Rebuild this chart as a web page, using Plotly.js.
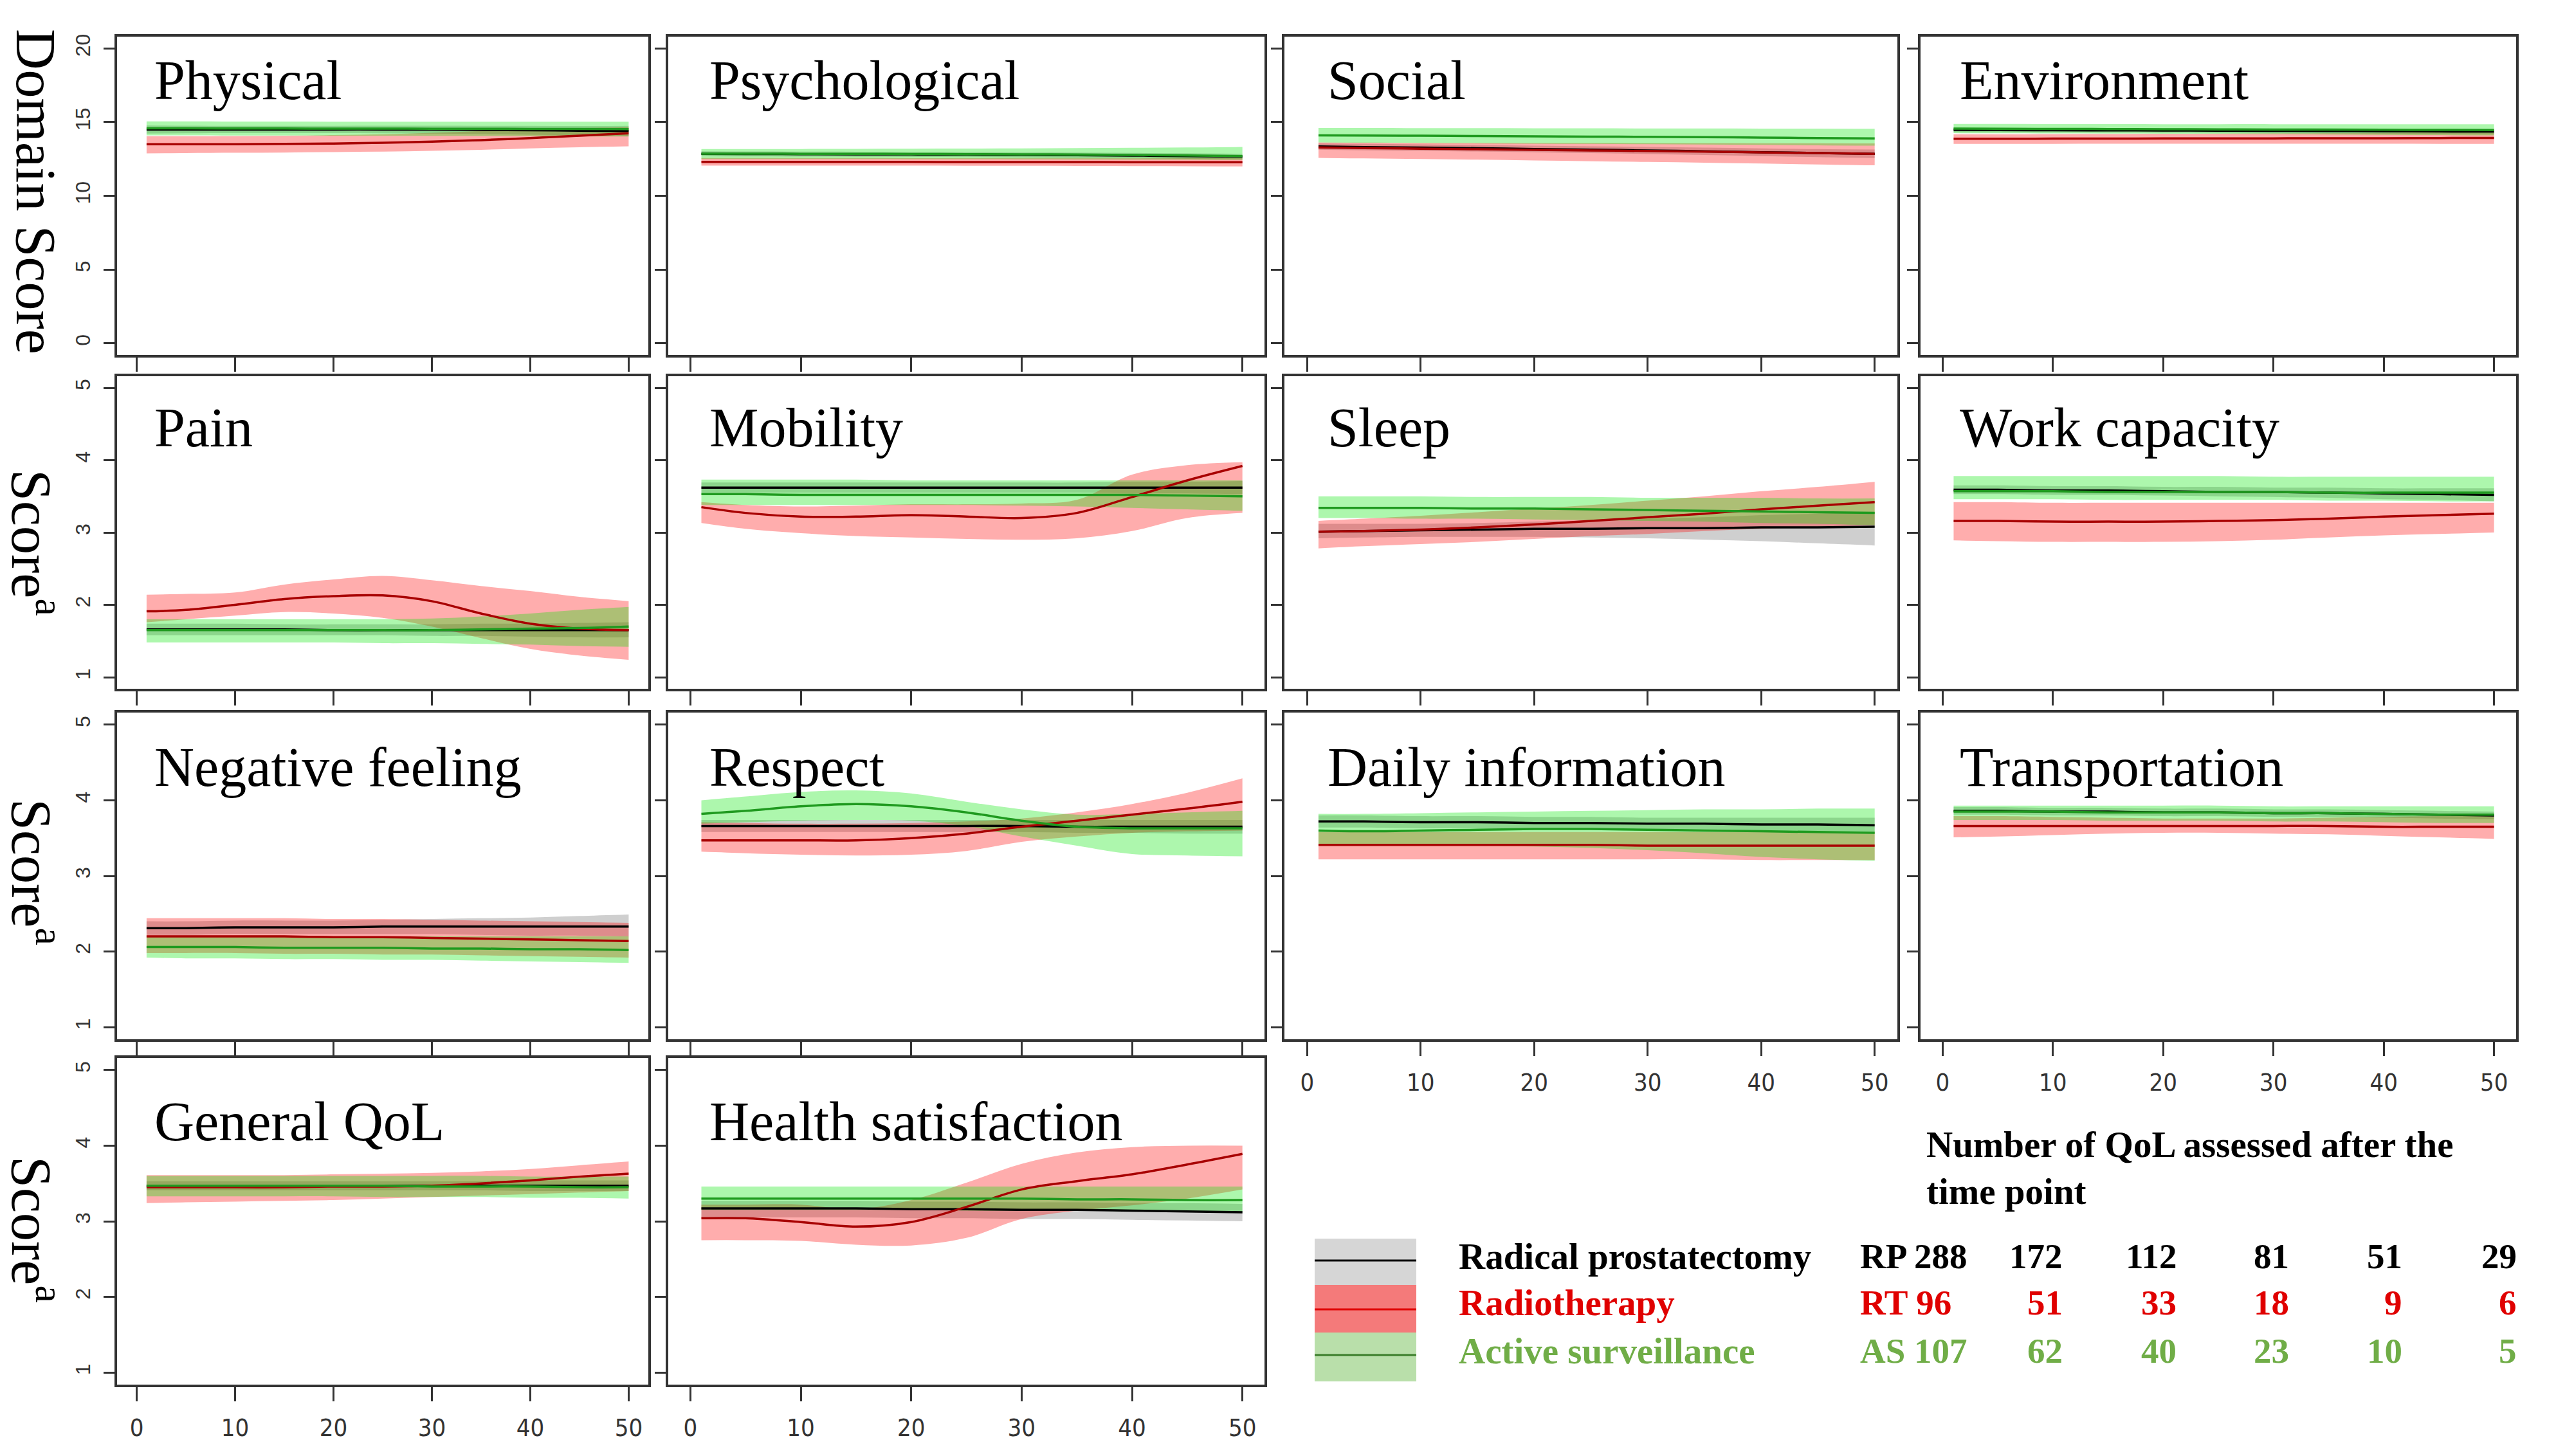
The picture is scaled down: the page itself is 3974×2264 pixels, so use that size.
<!DOCTYPE html>
<html><head><meta charset="utf-8">
<script src="https://cdn.plot.ly/plotly-3.0.1.min.js"></script>
<style>html,body{margin:0;padding:0;background:#fff}#chart{width:3974px;height:2264px}</style>
</head><body><div id="chart"></div>
<script>
// ---------------- DATA ----------------
const timePoints = [1,5,10,15,20,25,30,35,40,45,50];

const physical_RP_mean = [14.50,14.50,14.50,14.50,14.50,14.50,14.49,14.47,14.45,14.42,14.40];
const physical_RP_lo   = [14.22,14.24,14.25,14.25,14.25,14.24,14.22,14.19,14.15,14.10,14.05];
const physical_RP_hi   = [14.78,14.76,14.75,14.75,14.75,14.76,14.76,14.75,14.75,14.74,14.75];
const physical_RT_mean = [13.50,13.50,13.50,13.52,13.55,13.60,13.68,13.78,13.92,14.08,14.24];
const physical_RT_lo   = [12.88,12.90,12.92,12.94,12.97,13.00,13.05,13.12,13.22,13.30,13.36];
const physical_RT_hi   = [14.05,14.05,14.06,14.08,14.12,14.18,14.28,14.40,14.52,14.60,14.66];
const physical_AS_mean = [14.58,14.58,14.57,14.57,14.56,14.56,14.55,14.55,14.54,14.54,14.53];
const physical_AS_lo   = [14.10,14.10,14.09,14.09,14.08,14.08,14.07,14.06,14.05,14.04,14.03];
const physical_AS_hi   = [15.05,15.05,15.04,15.04,15.03,15.03,15.03,15.03,15.03,15.03,15.03];

const psychological_RP_mean = [12.85,12.84,12.83,12.82,12.81,12.80,12.78,12.76,12.73,12.70,12.66];
const psychological_RP_lo   = [12.68,12.67,12.66,12.65,12.64,12.63,12.61,12.58,12.55,12.51,12.47];
const psychological_RP_hi   = [13.02,13.01,13.00,12.99,12.98,12.97,12.95,12.94,12.91,12.89,12.85];
const psychological_RT_mean = [12.30,12.30,12.30,12.30,12.30,12.29,12.29,12.29,12.28,12.28,12.28];
const psychological_RT_lo   = [12.05,12.05,12.05,12.05,12.05,12.04,12.04,12.03,12.02,12.01,12.00];
const psychological_RT_hi   = [12.57,12.57,12.57,12.57,12.56,12.56,12.56,12.56,12.56,12.57,12.58];
const psychological_AS_mean = [12.86,12.86,12.85,12.85,12.84,12.83,12.82,12.80,12.77,12.74,12.70];
const psychological_AS_lo   = [12.50,12.50,12.50,12.50,12.49,12.49,12.48,12.47,12.46,12.45,12.44];
const psychological_AS_hi   = [13.18,13.18,13.18,13.19,13.20,13.21,13.22,13.24,13.26,13.28,13.32];

const social_RP_mean = [13.35,13.31,13.27,13.23,13.18,13.13,13.08,13.02,12.96,12.90,12.85];
const social_RP_lo   = [13.13,13.09,13.05,13.01,12.96,12.90,12.84,12.77,12.70,12.63,12.56];
const social_RP_hi   = [13.57,13.53,13.49,13.45,13.40,13.36,13.32,13.27,13.22,13.17,13.14];
const social_RT_mean = [13.28,13.24,13.20,13.16,13.12,13.08,13.04,13.00,12.95,12.90,12.85];
const social_RT_lo   = [12.58,12.54,12.50,12.45,12.40,12.35,12.30,12.25,12.19,12.13,12.07];
const social_RT_hi   = [13.62,13.61,13.60,13.60,13.59,13.59,13.58,13.58,13.57,13.57,13.56];
const social_AS_mean = [14.10,14.09,14.08,14.06,14.04,14.02,14.00,13.98,13.95,13.92,13.90];
const social_AS_lo   = [13.62,13.60,13.58,13.56,13.54,13.52,13.50,13.48,13.46,13.43,13.40];
const social_AS_hi   = [14.60,14.60,14.59,14.59,14.58,14.58,14.57,14.57,14.56,14.56,14.55];

const environment_RP_mean = [14.47,14.46,14.45,14.44,14.43,14.42,14.41,14.40,14.39,14.37,14.36];
const environment_RP_lo   = [14.32,14.31,14.30,14.29,14.28,14.27,14.25,14.24,14.22,14.20,14.18];
const environment_RP_hi   = [14.62,14.61,14.60,14.59,14.58,14.57,14.57,14.56,14.55,14.54,14.54];
const environment_RT_mean = [13.87,13.87,13.88,13.88,13.89,13.89,13.90,13.91,13.91,13.92,13.93];
const environment_RT_lo   = [13.52,13.52,13.52,13.53,13.53,13.53,13.53,13.53,13.53,13.52,13.52];
const environment_RT_hi   = [14.18,14.18,14.19,14.20,14.21,14.22,14.24,14.26,14.28,14.31,14.34];
const environment_AS_mean = [14.56,14.55,14.54,14.53,14.52,14.51,14.50,14.49,14.48,14.47,14.46];
const environment_AS_lo   = [14.25,14.24,14.23,14.22,14.21,14.20,14.18,14.16,14.14,14.12,14.10];
const environment_AS_hi   = [14.88,14.88,14.87,14.87,14.86,14.86,14.86,14.85,14.85,14.85,14.85];

const pain_RP_mean = [1.66,1.66,1.66,1.66,1.65,1.65,1.65,1.65,1.65,1.65,1.65];
const pain_RP_lo   = [1.58,1.58,1.58,1.58,1.58,1.58,1.57,1.57,1.56,1.55,1.55];
const pain_RP_hi   = [1.74,1.74,1.74,1.73,1.73,1.73,1.73,1.74,1.74,1.75,1.76];
const pain_RT_mean = [1.91,1.93,2.00,2.08,2.12,2.13,2.05,1.88,1.74,1.67,1.65];
const pain_RT_lo   = [1.76,1.80,1.85,1.90,1.88,1.82,1.70,1.54,1.39,1.30,1.24];
const pain_RT_hi   = [2.14,2.15,2.17,2.28,2.35,2.40,2.34,2.26,2.19,2.11,2.05];
const pain_AS_mean = [1.65,1.65,1.65,1.65,1.65,1.65,1.65,1.66,1.67,1.68,1.70];
const pain_AS_lo   = [1.48,1.48,1.48,1.48,1.48,1.47,1.47,1.46,1.45,1.43,1.42];
const pain_AS_hi   = [1.80,1.80,1.80,1.80,1.80,1.80,1.81,1.84,1.88,1.93,1.97];

const mobility_RP_mean = [3.62,3.62,3.62,3.62,3.62,3.62,3.62,3.62,3.62,3.62,3.62];
const mobility_RP_lo   = [3.55,3.55,3.55,3.55,3.55,3.55,3.55,3.55,3.54,3.54,3.53];
const mobility_RP_hi   = [3.69,3.69,3.69,3.69,3.69,3.69,3.69,3.69,3.70,3.70,3.71];
const mobility_RT_mean = [3.35,3.27,3.22,3.22,3.24,3.22,3.20,3.27,3.49,3.72,3.92];
const mobility_RT_lo   = [3.13,3.05,2.99,2.95,2.93,2.91,2.90,2.92,3.02,3.20,3.27];
const mobility_RT_hi   = [3.42,3.38,3.36,3.37,3.39,3.39,3.40,3.45,3.80,3.93,3.97];
const mobility_AS_mean = [3.53,3.53,3.52,3.52,3.52,3.52,3.52,3.52,3.52,3.51,3.50];
const mobility_AS_lo   = [3.38,3.38,3.38,3.38,3.38,3.38,3.37,3.36,3.34,3.32,3.30];
const mobility_AS_hi   = [3.73,3.73,3.73,3.73,3.72,3.72,3.72,3.72,3.72,3.72,3.72];

const sleep_RP_mean = [3.01,3.02,3.03,3.04,3.05,3.05,3.06,3.06,3.07,3.07,3.08];
const sleep_RP_lo   = [2.92,2.93,2.94,2.94,2.94,2.93,2.92,2.90,2.88,2.85,2.82];
const sleep_RP_hi   = [3.12,3.12,3.12,3.13,3.15,3.17,3.19,3.21,3.24,3.26,3.28];
const sleep_RT_mean = [3.01,3.02,3.04,3.07,3.11,3.16,3.21,3.26,3.32,3.37,3.42];
const sleep_RT_lo   = [2.78,2.81,2.84,2.87,2.91,2.95,2.98,3.02,3.05,3.08,3.10];
const sleep_RT_hi   = [3.16,3.19,3.23,3.28,3.33,3.38,3.44,3.50,3.57,3.63,3.70];
const sleep_AS_mean = [3.34,3.34,3.34,3.33,3.33,3.32,3.31,3.30,3.29,3.28,3.27];
const sleep_AS_lo   = [3.20,3.20,3.19,3.19,3.18,3.17,3.16,3.15,3.13,3.12,3.10];
const sleep_AS_hi   = [3.50,3.50,3.50,3.49,3.49,3.49,3.48,3.48,3.48,3.47,3.47];

const workCapacity_RP_mean = [3.59,3.59,3.58,3.58,3.57,3.56,3.56,3.55,3.54,3.53,3.52];
const workCapacity_RP_lo   = [3.53,3.53,3.52,3.52,3.51,3.50,3.49,3.48,3.46,3.45,3.43];
const workCapacity_RP_hi   = [3.65,3.65,3.64,3.64,3.63,3.63,3.62,3.62,3.61,3.61,3.61];
const workCapacity_RT_mean = [3.16,3.16,3.15,3.15,3.15,3.16,3.17,3.19,3.22,3.24,3.26];
const workCapacity_RT_lo   = [2.89,2.88,2.87,2.87,2.87,2.88,2.90,2.93,2.96,2.98,3.00];
const workCapacity_RT_hi   = [3.42,3.42,3.41,3.41,3.41,3.41,3.41,3.41,3.41,3.41,3.41];
const workCapacity_AS_mean = [3.57,3.57,3.57,3.56,3.56,3.56,3.56,3.55,3.55,3.55,3.55];
const workCapacity_AS_lo   = [3.46,3.46,3.46,3.45,3.45,3.45,3.45,3.44,3.44,3.43,3.43];
const workCapacity_AS_hi   = [3.78,3.78,3.78,3.78,3.78,3.78,3.77,3.77,3.77,3.77,3.77];

const negativeFeeling_RP_mean = [2.31,2.31,2.32,2.32,2.32,2.33,2.33,2.33,2.33,2.33,2.33];
const negativeFeeling_RP_lo   = [2.22,2.22,2.23,2.23,2.23,2.23,2.23,2.22,2.21,2.21,2.20];
const negativeFeeling_RP_hi   = [2.40,2.40,2.41,2.41,2.41,2.42,2.43,2.44,2.45,2.47,2.49];
const negativeFeeling_RT_mean = [2.20,2.20,2.20,2.20,2.19,2.19,2.18,2.17,2.16,2.15,2.14];
const negativeFeeling_RT_lo   = [1.98,1.98,1.98,1.97,1.97,1.96,1.96,1.95,1.94,1.93,1.92];
const negativeFeeling_RT_hi   = [2.44,2.44,2.44,2.44,2.43,2.43,2.42,2.41,2.40,2.39,2.38];
const negativeFeeling_AS_mean = [2.06,2.06,2.06,2.05,2.05,2.05,2.04,2.04,2.03,2.03,2.02];
const negativeFeeling_AS_lo   = [1.92,1.91,1.91,1.90,1.90,1.89,1.89,1.88,1.87,1.86,1.85];
const negativeFeeling_AS_hi   = [2.21,2.21,2.21,2.21,2.20,2.20,2.20,2.20,2.20,2.20,2.20];

const respect_RP_mean = [3.66,3.66,3.66,3.66,3.66,3.66,3.66,3.65,3.65,3.65,3.65];
const respect_RP_lo   = [3.58,3.58,3.58,3.58,3.58,3.58,3.58,3.57,3.57,3.56,3.56];
const respect_RP_hi   = [3.74,3.74,3.74,3.74,3.74,3.74,3.74,3.74,3.74,3.74,3.74];
const respect_RT_mean = [3.47,3.47,3.47,3.47,3.50,3.56,3.65,3.73,3.81,3.89,3.98];
const respect_RT_lo   = [3.32,3.30,3.28,3.27,3.28,3.33,3.45,3.52,3.57,3.59,3.60];
const respect_RT_hi   = [3.71,3.70,3.69,3.69,3.70,3.72,3.76,3.84,3.95,4.10,4.29];
const respect_AS_mean = [3.82,3.86,3.92,3.95,3.92,3.84,3.73,3.65,3.63,3.63,3.63];
const respect_AS_lo   = [3.69,3.71,3.73,3.74,3.73,3.66,3.52,3.40,3.29,3.27,3.26];
const respect_AS_hi   = [4.00,4.05,4.11,4.13,4.09,3.98,3.88,3.81,3.82,3.84,3.86];

const dailyInformation_RP_mean = [3.72,3.72,3.71,3.71,3.70,3.70,3.69,3.69,3.68,3.68,3.67];
const dailyInformation_RP_lo   = [3.64,3.64,3.63,3.63,3.62,3.62,3.61,3.61,3.60,3.59,3.58];
const dailyInformation_RP_hi   = [3.80,3.80,3.79,3.79,3.78,3.78,3.77,3.77,3.77,3.77,3.77];
const dailyInformation_RT_mean = [3.41,3.41,3.41,3.41,3.41,3.41,3.40,3.40,3.40,3.40,3.40];
const dailyInformation_RT_lo   = [3.22,3.22,3.22,3.22,3.22,3.22,3.22,3.22,3.21,3.21,3.21];
const dailyInformation_RT_hi   = [3.58,3.58,3.58,3.58,3.58,3.58,3.58,3.58,3.58,3.58,3.58];
const dailyInformation_AS_mean = [3.60,3.59,3.60,3.61,3.62,3.62,3.61,3.60,3.59,3.58,3.57];
const dailyInformation_AS_lo   = [3.42,3.42,3.41,3.40,3.39,3.37,3.34,3.30,3.25,3.22,3.20];
const dailyInformation_AS_hi   = [3.82,3.82,3.83,3.84,3.85,3.86,3.87,3.88,3.88,3.89,3.89];

const transportation_RP_mean = [3.86,3.86,3.85,3.85,3.84,3.84,3.83,3.83,3.82,3.81,3.80];
const transportation_RP_lo   = [3.81,3.81,3.80,3.80,3.79,3.79,3.78,3.78,3.77,3.76,3.75];
const transportation_RP_hi   = [3.91,3.91,3.90,3.90,3.89,3.89,3.88,3.88,3.87,3.86,3.85];
const transportation_RT_mean = [3.66,3.66,3.66,3.66,3.66,3.66,3.66,3.66,3.65,3.65,3.65];
const transportation_RT_lo   = [3.51,3.52,3.54,3.56,3.57,3.57,3.56,3.55,3.53,3.51,3.49];
const transportation_RT_hi   = [3.79,3.79,3.78,3.77,3.76,3.76,3.76,3.77,3.78,3.79,3.80];
const transportation_AS_mean = [3.85,3.85,3.85,3.84,3.84,3.84,3.83,3.83,3.82,3.81,3.81];
const transportation_AS_lo   = [3.74,3.74,3.74,3.73,3.73,3.73,3.72,3.72,3.71,3.70,3.70];
const transportation_AS_hi   = [3.93,3.93,3.93,3.93,3.93,3.93,3.92,3.92,3.92,3.92,3.92];

const generalQoL_RP_mean = [3.47,3.47,3.47,3.47,3.47,3.47,3.47,3.47,3.47,3.47,3.47];
const generalQoL_RP_lo   = [3.41,3.41,3.41,3.41,3.41,3.41,3.41,3.41,3.40,3.40,3.40];
const generalQoL_RP_hi   = [3.53,3.53,3.53,3.53,3.53,3.53,3.53,3.53,3.54,3.54,3.54];
const generalQoL_RT_mean = [3.45,3.45,3.45,3.45,3.46,3.46,3.47,3.50,3.54,3.59,3.63];
const generalQoL_RT_lo   = [3.24,3.25,3.26,3.27,3.28,3.30,3.32,3.34,3.36,3.38,3.40];
const generalQoL_RT_hi   = [3.61,3.61,3.61,3.61,3.62,3.63,3.64,3.66,3.69,3.74,3.79];
const generalQoL_AS_mean = [3.47,3.47,3.47,3.47,3.47,3.47,3.46,3.46,3.46,3.45,3.45];
const generalQoL_AS_lo   = [3.33,3.33,3.33,3.33,3.33,3.32,3.32,3.32,3.31,3.31,3.30];
const generalQoL_AS_hi   = [3.60,3.60,3.60,3.60,3.60,3.60,3.60,3.60,3.59,3.59,3.59];

const healthSatisfaction_RP_mean = [3.17,3.17,3.17,3.17,3.16,3.16,3.15,3.15,3.14,3.13,3.12];
const healthSatisfaction_RP_lo   = [3.05,3.05,3.05,3.05,3.04,3.04,3.03,3.03,3.02,3.01,3.00];
const healthSatisfaction_RP_hi   = [3.27,3.27,3.27,3.27,3.26,3.26,3.25,3.25,3.24,3.24,3.23];
const healthSatisfaction_RT_mean = [3.04,3.04,2.99,2.93,2.99,3.19,3.42,3.53,3.62,3.75,3.89];
const healthSatisfaction_RT_lo   = [2.75,2.75,2.74,2.69,2.68,2.78,3.03,3.14,3.21,3.30,3.42];
const healthSatisfaction_RT_hi   = [3.22,3.22,3.22,3.16,3.28,3.51,3.76,3.91,3.98,4.00,4.00];
const healthSatisfaction_AS_mean = [3.30,3.30,3.30,3.30,3.30,3.30,3.30,3.29,3.29,3.28,3.28];
const healthSatisfaction_AS_lo   = [3.15,3.15,3.15,3.15,3.15,3.14,3.14,3.14,3.13,3.13,3.12];
const healthSatisfaction_AS_hi   = [3.46,3.46,3.46,3.46,3.46,3.46,3.46,3.46,3.46,3.46,3.46];

const groupNames = ['Radical prostatectomy','Radiotherapy','Active surveillance'];
const groupAbbr = ['RP','RT','AS'];
const countsRP = [288,172,112,81,51,29];
const countsRT = [96,51,33,18,9,6];
const countsAS = [107,62,40,23,10,5];
const xTicks = [0,10,20,30,40,50];
const domainTicks = [0,5,10,15,20];
const itemTicks = [1,2,3,4,5];

// ---------------- LAYOUT / BUILD ----------------
const W = 3974, H = 2264;
const colPx = [[182,1008],[1039,1966],[1997,2950],[2986,3912]];
const rowPx = [[57,552],[585,1071],[1108,1616],[1645,2153]];
const titleX = [238,1101,2062,3045];
const titleY = [125,665,1193,1744];

const panels = [
  {t:'Physical', r:0, c:0, d:[physical_RP_mean,physical_RP_lo,physical_RP_hi,physical_RT_mean,physical_RT_lo,physical_RT_hi,physical_AS_mean,physical_AS_lo,physical_AS_hi]},
  {t:'Psychological', r:0, c:1, d:[psychological_RP_mean,psychological_RP_lo,psychological_RP_hi,psychological_RT_mean,psychological_RT_lo,psychological_RT_hi,psychological_AS_mean,psychological_AS_lo,psychological_AS_hi]},
  {t:'Social', r:0, c:2, d:[social_RP_mean,social_RP_lo,social_RP_hi,social_RT_mean,social_RT_lo,social_RT_hi,social_AS_mean,social_AS_lo,social_AS_hi]},
  {t:'Environment', r:0, c:3, d:[environment_RP_mean,environment_RP_lo,environment_RP_hi,environment_RT_mean,environment_RT_lo,environment_RT_hi,environment_AS_mean,environment_AS_lo,environment_AS_hi]},
  {t:'Pain', r:1, c:0, d:[pain_RP_mean,pain_RP_lo,pain_RP_hi,pain_RT_mean,pain_RT_lo,pain_RT_hi,pain_AS_mean,pain_AS_lo,pain_AS_hi]},
  {t:'Mobility', r:1, c:1, d:[mobility_RP_mean,mobility_RP_lo,mobility_RP_hi,mobility_RT_mean,mobility_RT_lo,mobility_RT_hi,mobility_AS_mean,mobility_AS_lo,mobility_AS_hi]},
  {t:'Sleep', r:1, c:2, d:[sleep_RP_mean,sleep_RP_lo,sleep_RP_hi,sleep_RT_mean,sleep_RT_lo,sleep_RT_hi,sleep_AS_mean,sleep_AS_lo,sleep_AS_hi]},
  {t:'Work capacity', r:1, c:3, d:[workCapacity_RP_mean,workCapacity_RP_lo,workCapacity_RP_hi,workCapacity_RT_mean,workCapacity_RT_lo,workCapacity_RT_hi,workCapacity_AS_mean,workCapacity_AS_lo,workCapacity_AS_hi]},
  {t:'Negative feeling', r:2, c:0, d:[negativeFeeling_RP_mean,negativeFeeling_RP_lo,negativeFeeling_RP_hi,negativeFeeling_RT_mean,negativeFeeling_RT_lo,negativeFeeling_RT_hi,negativeFeeling_AS_mean,negativeFeeling_AS_lo,negativeFeeling_AS_hi]},
  {t:'Respect', r:2, c:1, d:[respect_RP_mean,respect_RP_lo,respect_RP_hi,respect_RT_mean,respect_RT_lo,respect_RT_hi,respect_AS_mean,respect_AS_lo,respect_AS_hi]},
  {t:'Daily information', r:2, c:2, d:[dailyInformation_RP_mean,dailyInformation_RP_lo,dailyInformation_RP_hi,dailyInformation_RT_mean,dailyInformation_RT_lo,dailyInformation_RT_hi,dailyInformation_AS_mean,dailyInformation_AS_lo,dailyInformation_AS_hi]},
  {t:'Transportation', r:2, c:3, d:[transportation_RP_mean,transportation_RP_lo,transportation_RP_hi,transportation_RT_mean,transportation_RT_lo,transportation_RT_hi,transportation_AS_mean,transportation_AS_lo,transportation_AS_hi]},
  {t:'General QoL', r:3, c:0, d:[generalQoL_RP_mean,generalQoL_RP_lo,generalQoL_RP_hi,generalQoL_RT_mean,generalQoL_RT_lo,generalQoL_RT_hi,generalQoL_AS_mean,generalQoL_AS_lo,generalQoL_AS_hi]},
  {t:'Health satisfaction', r:3, c:1, d:[healthSatisfaction_RP_mean,healthSatisfaction_RP_lo,healthSatisfaction_RP_hi,healthSatisfaction_RT_mean,healthSatisfaction_RT_lo,healthSatisfaction_RT_hi,healthSatisfaction_AS_mean,healthSatisfaction_AS_lo,healthSatisfaction_AS_hi]}
];

const fillColors = ['rgba(110,110,110,0.33)','rgba(255,0,0,0.32)','rgba(0,230,0,0.32)'];
const lineColors = ['#000000','#a80000','#1f9a1f'];

const px2x = p => p / W;
const px2y = p => 1 - p / H;

const traces = [];
const layout = {
  width: W, height: H, margin:{l:0,r:0,t:0,b:0},
  paper_bgcolor:'#ffffff', plot_bgcolor:'#ffffff',
  showlegend:false, hovermode:false,
  annotations:[], shapes:[]
};

const serif = 'Liberation Serif, Times New Roman, serif';
const sans = 'Liberation Sans, Arial, sans-serif';
const narrow = 'Liberation Sans Narrow, Arial Narrow, DejaVu Sans Condensed, sans-serif';

panels.forEach((p, i) => {
  const s = i === 0 ? '' : String(i + 1);
  const xa = 'x' + s, ya = 'y' + s;
  for (let g = 0; g < 3; g++) {
    traces.push({x: timePoints, y: p.d[g*3+1], xaxis: xa, yaxis: ya, mode:'lines',
      line:{width:0, shape:'spline'}, hoverinfo:'skip'});
    traces.push({x: timePoints, y: p.d[g*3+2], xaxis: xa, yaxis: ya, mode:'lines',
      line:{width:0, shape:'spline'}, fill:'tonexty', fillcolor: fillColors[g], hoverinfo:'skip'});
  }
  for (let g = 0; g < 3; g++) {
    traces.push({x: timePoints, y: p.d[g*3], xaxis: xa, yaxis: ya, mode:'lines',
      line:{width:3.5, color: lineColors[g], shape:'spline'}, name: groupNames[g]});
  }
  const isDomain = p.r === 0;
  const showX = (p.r === 3) || (p.r === 2 && p.c >= 2);
  const showY = p.c === 0;
  layout['xaxis' + s] = {
    domain:[px2x(colPx[p.c][0]), px2x(colPx[p.c][1])], anchor: ya,
    range:[-2,52], tickvals: xTicks,
    showticklabels: showX, ticks:'outside', ticklen:22, tickwidth:3, tickcolor:'#333',
    showline:true, mirror:true, linecolor:'#333', linewidth:4,
    showgrid:false, zeroline:false, ticklabelstandoff: 8,
    tickfont:{family: narrow, size:38, color:'#333'}
  };
  layout['yaxis' + s] = {
    domain:[px2y(rowPx[p.r][1]), px2y(rowPx[p.r][0])], anchor: xa,
    range: isDomain ? [-0.8,20.8] : [0.84,5.16],
    tickvals: isDomain ? domainTicks : itemTicks,
    showticklabels: showY, tickangle:-90, ticks:'outside', ticklen:17, tickwidth:3, tickcolor:'#333',
    showline:true, mirror:true, linecolor:'#333', linewidth:4,
    showgrid:false, zeroline:false, ticklabelstandoff: 8,
    tickfont:{family: sans, size:32, color:'#333'}
  };
  layout.annotations.push({
    xref:'paper', yref:'paper', x: px2x(titleX[p.c]), y: px2y(titleY[p.r]),
    xanchor:'left', yanchor:'middle', showarrow:false, text: p.t,
    font:{family: serif, size:86, color:'#000'}
  });
});

const rowTitles = ['Domain Score','Score<sup>a</sup>','Score<sup>a</sup>','Score<sup>a</sup>'];
const rowTitleY = [298, 844, 1356, 1912];
rowTitles.forEach((t, r) => {
  layout.annotations.push({
    xref:'paper', yref:'paper', x: px2x(56), y: px2y(rowTitleY[r]),
    xanchor:'center', yanchor:'middle', showarrow:false, textangle:90, text:t,
    font:{family: serif, size:88, color:'#000'}
  });
});

const swatchY = [[1926,1998],[1998,2072],[2072,2148]];
const swatchFill = ['#d6d6d6','#f47a7a','#b9dfaa'];
const swatchLineY = [1960,2036,2107];
const swatchLine = ['#000000','#e00000','#3a7d2a'];
for (let g = 0; g < 3; g++) {
  layout.shapes.push({type:'rect', xref:'paper', yref:'paper',
    x0: px2x(2044), x1: px2x(2202), y0: px2y(swatchY[g][1]), y1: px2y(swatchY[g][0]),
    fillcolor: swatchFill[g], line:{width:0}, layer:'above'});
  layout.shapes.push({type:'line', xref:'paper', yref:'paper',
    x0: px2x(2044), x1: px2x(2202), y0: px2y(swatchLineY[g]), y1: px2y(swatchLineY[g]),
    line:{width:3, color: swatchLine[g]}, layer:'above'});
}
const textColors = ['#000000','#e00000','#70ad47'];
const legendTextY = [1953, 2025, 2100];
const countsAll = [countsRP, countsRT, countsAS];
const countRightX = [3209, 3386, 3561, 3737, 3915];
for (let g = 0; g < 3; g++) {
  layout.annotations.push({xref:'paper', yref:'paper', x: px2x(2266), y: px2y(legendTextY[g]),
    xanchor:'left', yanchor:'middle', showarrow:false, text:'<b>' + groupNames[g] + '</b>',
    font:{family: serif, size:57, color: textColors[g]}});
  layout.annotations.push({xref:'paper', yref:'paper', x: px2x(2890), y: px2y(legendTextY[g]),
    xanchor:'left', yanchor:'middle', showarrow:false,
    text:'<b>' + groupAbbr[g] + ' ' + countsAll[g][0] + '</b>',
    font:{family: serif, size:55, color: textColors[g]}});
  for (let k = 1; k < countsAll[g].length; k++) {
    layout.annotations.push({xref:'paper', yref:'paper', x: px2x(countRightX[k-1]), y: px2y(legendTextY[g]),
      xanchor:'right', yanchor:'middle', showarrow:false, text:'<b>' + countsAll[g][k] + '</b>',
      font:{family: serif, size:55, color: textColors[g]}});
  }
}
layout.annotations.push({xref:'paper', yref:'paper', x: px2x(2993), y: px2y(1779),
  xanchor:'left', yanchor:'middle', showarrow:false, text:'<b>Number of QoL assessed after the</b>',
  font:{family: serif, size:57, color:'#000'}});
layout.annotations.push({xref:'paper', yref:'paper', x: px2x(2993), y: px2y(1852),
  xanchor:'left', yanchor:'middle', showarrow:false, text:'<b>time point</b>',
  font:{family: serif, size:57, color:'#000'}});

Plotly.newPlot('chart', traces, layout, {displayModeBar:false, staticPlot:true});
</script>
</body></html>
